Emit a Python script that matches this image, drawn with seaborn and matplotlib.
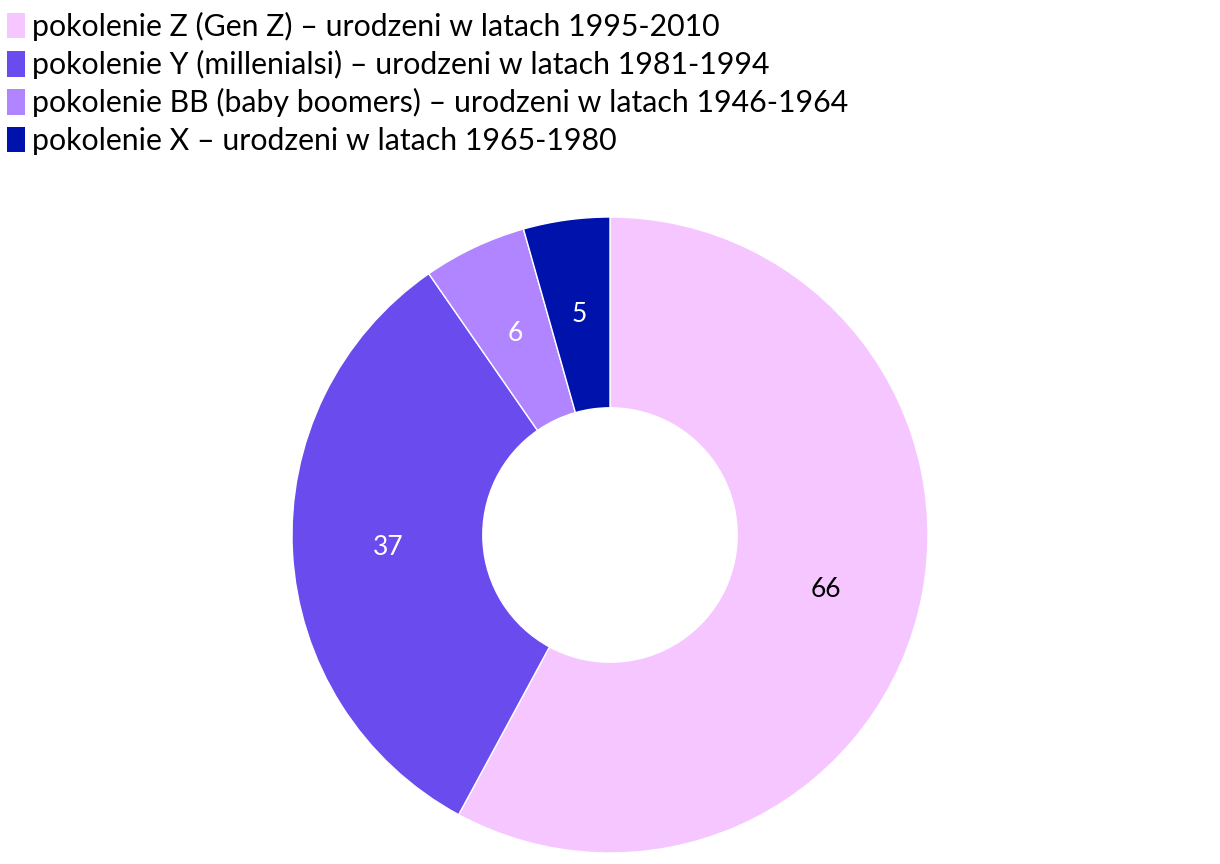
import matplotlib
matplotlib.use("Agg")
import matplotlib.pyplot as plt
import matplotlib.patches as mpatches
import seaborn as sns

categories = [
    "pokolenie Z (Gen Z) – urodzeni w latach 1995-2010",
    "pokolenie Y (millenialsi) – urodzeni w latach 1981-1994",
    "pokolenie BB (baby boomers) – urodzeni w latach 1946-1964",
    "pokolenie X – urodzeni w latach 1965-1980",
]
values = [66, 37, 6, 5]
colors = ["#F5C6FF", "#6A4BEE", "#B085FF", "#0012AC"]
label_colors = ["black", "white", "white", "white"]

sns.set_theme(style="white")
plt.rcParams["font.family"] = ["Lato", "DejaVu Sans"]

fig = plt.figure(figsize=(12.2, 8.64), dpi=100)
ax = fig.add_axes([(610 - 318) / 1220, (864 - 535 - 318) / 864, 636 / 1220, 636 / 864])

wedges, texts = ax.pie(
    values,
    colors=colors,
    startangle=90,
    counterclock=False,
    radius=1.0,
    labels=[str(v) for v in values],
    labeldistance=0.70,
    wedgeprops=dict(width=0.6, edgecolor="white", linewidth=1),
    textprops=dict(fontsize=19),
)
for t, c in zip(texts, label_colors):
    t.set_color(c)
    t.set_ha("center")
    t.set_va("center")
ax.set_xlim(-1, 1)
ax.set_ylim(-1, 1)
ax.set_aspect("equal")
ax.axis("off")

handles = [mpatches.Patch(facecolor=c, edgecolor="none") for c in colors]
leg = fig.legend(
    handles, categories,
    loc="upper left", bbox_to_anchor=(0.0, 1.0 - 5 / 864),
    frameon=False, fontsize=21.8,
    handlelength=0.6, handleheight=0.92, handletextpad=0.23,
    labelspacing=0.3, borderaxespad=0.0, borderpad=0.23,
)
for t in leg.get_texts():
    t.set_color("black")

fig.savefig("out.png", dpi=100)
